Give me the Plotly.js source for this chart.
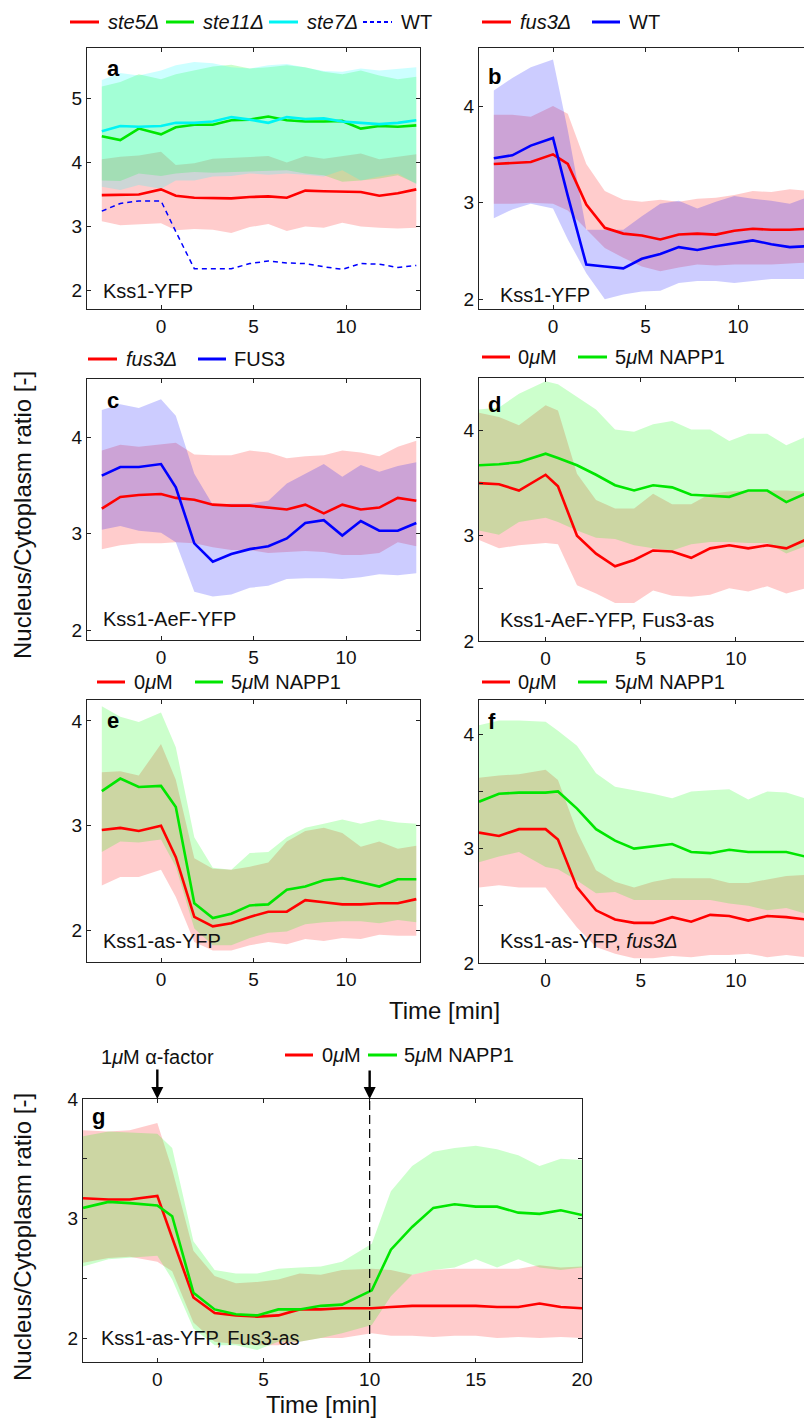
<!DOCTYPE html>
<html><head><meta charset="utf-8">
<script src="https://cdn.plot.ly/plotly-3.0.1.min.js"></script>
<style>html,body{margin:0;padding:0;overflow:hidden;background:#fff;width:804px;height:1418px}#chart{width:830px;height:1418px}</style>
</head><body><div id="chart"></div>
<script>
// ---------- time axes ----------
const T_A = [-3.2,-2.2,-1.2,0,0.8,1.8,2.8,3.8,4.8,5.8,6.8,7.8,8.8,9.8,10.8,11.8,12.8,13.8];
const T_D = [-3.5,-2.45,-1.4,0,0.65,1.65,2.65,3.65,4.65,5.65,6.65,7.65,8.65,9.65,10.65,11.65,12.65,13.65];
const T_G = [-3.5,-2.3,-1.3,0,0.7,1.7,2.7,3.7,4.7,5.7,6.7,7.7,8.7,10.1,11,12,13,14,15,16,17,18,19,20];

// ---------- panel a: Kss1-YFP ----------
const a_ste5 = [3.49,3.49,3.50,3.58,3.48,3.45,3.44,3.44,3.46,3.47,3.45,3.56,3.55,3.54,3.54,3.48,3.52,3.58];
const a_ste5_hi = [4.05,4.09,4.11,4.17,3.96,3.99,4.06,4.07,4.08,4.10,4.00,4.10,4.06,4.10,4.14,4.05,4.09,4.13];
const a_ste5_lo = [3.08,3.02,3.03,3.05,2.94,2.96,2.95,2.90,2.99,3.04,2.93,3.00,2.98,3.06,3.00,2.98,2.97,2.98];
const a_ste11 = [4.41,4.35,4.53,4.44,4.55,4.59,4.59,4.66,4.67,4.72,4.66,4.64,4.64,4.65,4.53,4.57,4.56,4.58];
const a_ste11_hi = [5.19,5.26,5.38,5.30,5.38,5.44,5.50,5.53,5.47,5.49,5.52,5.49,5.42,5.38,5.44,5.36,5.30,5.34];
const a_ste11_lo = [3.72,3.71,3.83,3.79,3.83,3.85,3.84,3.85,3.87,3.87,3.88,3.83,3.80,3.70,3.72,3.75,3.80,3.67];
const a_ste7 = [4.49,4.57,4.56,4.57,4.62,4.62,4.64,4.71,4.67,4.62,4.71,4.68,4.69,4.64,4.62,4.60,4.62,4.66];
const a_ste7_hi = [5.29,5.40,5.36,5.44,5.52,5.57,5.55,5.49,5.47,5.52,5.54,5.49,5.43,5.42,5.47,5.44,5.47,5.49];
const a_ste7_lo = [3.62,3.57,3.65,3.59,3.72,3.72,3.78,3.79,3.83,3.81,3.83,3.81,3.78,3.88,3.72,3.78,3.83,3.66];
const a_wt = [3.24,3.36,3.40,3.40,2.92,2.34,2.34,2.34,2.42,2.46,2.43,2.42,2.37,2.33,2.42,2.41,2.36,2.39];

// ---------- panel b: Kss1-YFP ----------
const b_fus3 = [3.40,3.41,3.42,3.50,3.40,2.98,2.74,2.68,2.66,2.62,2.67,2.68,2.67,2.71,2.73,2.72,2.72,2.73];
const b_fus3_hi = [3.91,3.91,3.89,4.00,3.92,3.40,3.12,3.03,3.01,3.03,3.01,3.04,3.05,3.08,3.12,3.11,3.14,3.12];
const b_fus3_lo = [2.99,2.99,3.00,2.99,2.92,2.72,2.53,2.43,2.34,2.29,2.33,2.36,2.35,2.36,2.36,2.36,2.37,2.38];
const b_wt = [3.46,3.49,3.59,3.67,3.07,2.36,2.34,2.32,2.42,2.47,2.54,2.51,2.55,2.58,2.61,2.57,2.54,2.55];
const b_wt_hi = [4.16,4.29,4.40,4.48,3.75,2.72,2.72,2.72,2.86,2.99,3.02,2.94,3.01,3.07,3.04,3.02,2.99,3.06];
const b_wt_lo = [2.84,2.93,2.99,2.94,2.62,2.27,2.00,2.05,2.08,2.09,2.17,2.19,2.19,2.17,2.19,2.21,2.21,2.21];

// ---------- panel c: Kss1-AeF-YFP ----------
const c_fus3 = [3.26,3.38,3.40,3.41,3.37,3.35,3.30,3.29,3.29,3.27,3.25,3.30,3.21,3.30,3.25,3.27,3.37,3.34];
const c_fus3_hi = [3.86,3.92,3.90,3.92,3.94,3.82,3.81,3.81,3.86,3.84,3.78,3.80,3.81,3.86,3.84,3.80,3.90,3.96];
const c_fus3_lo = [2.84,2.88,2.90,2.90,2.91,2.90,2.86,2.83,2.83,2.80,2.81,2.82,2.81,2.78,2.78,2.80,2.91,2.87];
const c_FUS3 = [3.60,3.69,3.69,3.72,3.48,2.90,2.71,2.79,2.84,2.87,2.95,3.11,3.14,2.98,3.13,3.03,3.03,3.11];
const c_FUS3_hi = [4.28,4.34,4.30,4.39,4.22,3.62,3.30,3.31,3.31,3.34,3.52,3.62,3.72,3.59,3.71,3.64,3.70,3.74];
const c_FUS3_lo = [3.04,3.08,3.03,3.01,2.91,2.40,2.35,2.37,2.44,2.46,2.53,2.54,2.54,2.53,2.55,2.58,2.57,2.59];

// ---------- panel d: Kss1-AeF-YFP, Fus3-as ----------
const d_0 = [3.50,3.49,3.43,3.58,3.47,3.00,2.83,2.71,2.77,2.86,2.85,2.79,2.88,2.91,2.88,2.91,2.88,2.96];
const d_0_hi = [4.17,4.13,4.05,4.24,4.19,3.59,3.34,3.26,3.26,3.40,3.30,3.30,3.40,3.42,3.43,3.43,3.43,3.42];
const d_0_lo = [2.96,2.88,2.91,2.93,2.92,2.53,2.45,2.36,2.36,2.48,2.43,2.42,2.44,2.50,2.47,2.52,2.45,2.50];
const d_5 = [3.67,3.68,3.70,3.78,3.74,3.67,3.58,3.48,3.43,3.48,3.46,3.39,3.38,3.37,3.43,3.43,3.32,3.40];
const d_5_hi = [4.20,4.22,4.35,4.47,4.44,4.32,4.20,4.01,3.99,4.06,4.09,4.01,4.01,3.90,3.97,3.97,3.86,3.94];
const d_5_lo = [3.05,3.01,3.13,3.17,3.13,3.05,2.98,2.97,2.91,2.88,2.86,2.92,2.94,2.94,2.93,2.93,2.83,2.90];

// ---------- panel e: Kss1-as-YFP ----------
const e_0 = [2.96,2.98,2.95,3.00,2.70,2.13,2.04,2.07,2.13,2.18,2.18,2.29,2.27,2.25,2.25,2.26,2.26,2.30];
const e_0_hi = [3.51,3.52,3.48,3.78,3.44,2.69,2.59,2.58,2.61,2.65,2.85,2.95,2.98,2.93,2.80,2.85,2.78,2.81];
const e_0_lo = [2.43,2.51,2.51,2.58,2.32,1.89,1.81,1.81,1.86,1.89,1.87,1.92,1.90,1.93,1.92,1.96,1.95,1.95];
const e_5 = [3.33,3.45,3.37,3.38,3.18,2.26,2.12,2.16,2.24,2.25,2.39,2.42,2.48,2.50,2.46,2.42,2.49,2.49];
const e_5_hi = [4.14,4.04,3.99,4.08,3.75,2.89,2.60,2.58,2.74,2.75,2.89,2.98,3.02,3.06,3.02,3.06,3.03,3.02];
const e_5_lo = [2.75,2.85,2.84,2.87,2.61,2.02,1.86,1.86,1.93,1.98,1.99,2.06,2.08,2.09,2.09,2.07,2.10,2.08];

// ---------- panel f: Kss1-as-YFP, fus3Δ ----------
const f_0 = [3.14,3.11,3.17,3.17,3.08,2.66,2.46,2.38,2.35,2.35,2.40,2.36,2.42,2.41,2.37,2.41,2.40,2.38];
const f_0_hi = [3.62,3.64,3.65,3.69,3.60,3.15,2.81,2.71,2.66,2.71,2.74,2.74,2.74,2.70,2.70,2.73,2.76,2.77];
const f_0_lo = [2.66,2.68,2.66,2.66,2.52,2.31,2.14,2.08,2.04,2.04,2.06,2.05,2.07,2.07,2.08,2.05,2.07,2.05];
const f_5 = [3.41,3.48,3.49,3.49,3.50,3.35,3.17,3.07,3.00,3.02,3.04,2.97,2.96,2.99,2.97,2.97,2.97,2.93];
const f_5_hi = [4.08,4.12,4.12,4.11,4.03,3.90,3.66,3.54,3.51,3.48,3.44,3.50,3.51,3.52,3.43,3.50,3.49,3.44];
const f_5_lo = [2.88,2.93,2.97,2.84,2.82,2.72,2.61,2.62,2.55,2.55,2.55,2.55,2.55,2.52,2.50,2.46,2.48,2.43];

// ---------- panel g: Kss1-as-YFP, Fus3-as ----------
const g_0 = [3.17,3.16,3.16,3.19,2.84,2.34,2.21,2.19,2.18,2.19,2.24,2.24,2.25,2.25,2.26,2.27,2.27,2.27,2.27,2.26,2.26,2.29,2.26,2.25];
const g_0_hi = [3.74,3.73,3.74,3.80,3.41,2.73,2.52,2.46,2.47,2.49,2.54,2.53,2.57,2.58,2.57,2.53,2.57,2.58,2.58,2.58,2.58,2.61,2.59,2.60];
const g_0_lo = [2.63,2.67,2.68,2.64,2.56,2.13,1.97,1.95,1.94,1.94,1.97,2.00,2.00,2.04,2.02,2.02,2.01,2.02,2.02,2.00,2.01,2.00,2.01,2.00];
const g_5 = [3.09,3.14,3.13,3.11,3.02,2.38,2.24,2.20,2.19,2.24,2.24,2.27,2.28,2.40,2.74,2.93,3.09,3.12,3.10,3.10,3.05,3.04,3.07,3.03];
const g_5_hi = [3.69,3.73,3.72,3.71,3.59,2.81,2.57,2.54,2.54,2.58,2.59,2.60,2.64,2.79,3.23,3.44,3.56,3.59,3.61,3.58,3.53,3.44,3.50,3.49];
const g_5_lo = [2.60,2.66,2.67,2.69,2.49,2.08,1.94,1.94,1.90,1.97,1.97,2.00,2.04,2.11,2.35,2.53,2.57,2.59,2.66,2.59,2.66,2.59,2.57,2.59];
const G_ALPHA_TIME = 0;   // 1 µM alpha-factor added
const G_NAPP_TIME = 10;   // NAPP1 added

// ---------- tick labels ----------
const X_TICKS = [0,5,10];
const X_TICKS_G = [0,5,10,15,20];
const Y_TICKS_INT = [2,3,4];
const Y_TICKS_A = [2,3,4,5];
const Y_TICKS_HALF = [2,2.5,3,3.5,4];
const Y_TEXT_HALF = ['2','','3','','4'];

// ---------- styling ----------
const W = 830, H = 1418;
const FONT = '"Liberation Sans", Arial, Helvetica, sans-serif';
const C = {red:'#ff0000', green:'#00e600', cyan:'#00f4f4', blue:'#0000ff'};
const F = {red:'rgba(255,0,0,0.2)', green:'rgba(0,255,0,0.2)', cyan:'rgba(0,255,255,0.2)', blue:'rgba(0,0,255,0.2)'};
const fx = p => p / W;
const fy = p => 1 - p / H;

const panels = [
  {n:1, box:[87,48,420,309],   xr:[-4,14],   yr:[1.71,5.79],  yt:Y_TICKS_A},
  {n:2, box:[479,48,812,309],  xr:[-4,14],   yr:[1.9,4.6],    yt:Y_TICKS_INT},
  {n:3, box:[87,379,420,640],  xr:[-4,14],   yr:[1.9,4.6],    yt:Y_TICKS_INT},
  {n:4, box:[479,378,812,641], xr:[-3.5,14], yr:[1.999,4.5],  yt:Y_TICKS_HALF, ytt:Y_TEXT_HALF},
  {n:5, box:[87,700,420,962],  xr:[-4,14],   yr:[1.7,4.2],    yt:Y_TICKS_INT},
  {n:6, box:[479,700,812,963], xr:[-3.5,14], yr:[1.999,4.3],  yt:Y_TICKS_HALF, ytt:Y_TEXT_HALF},
  {n:7, box:[83,1099,582,1362],xr:[-3.5,20], yr:[1.8,4.001],  yt:Y_TICKS_HALF, ytt:Y_TEXT_HALF, xt:X_TICKS_G}
];

const traces = [];
function band(x, lo, hi, col, n){
  traces.push({x: x.concat(x.slice().reverse()), y: hi.concat(lo.slice().reverse()),
    type:'scatter', mode:'lines', fill:'toself', fillcolor:F[col], line:{width:0, color:F[col]},
    hoverinfo:'skip', showlegend:false, xaxis:'x'+n, yaxis:'y'+n});
}
function line(x, y, col, n, dash, w){
  traces.push({x:x, y:y, type:'scatter', mode:'lines', line:{color:C[col], width:w||2.6, dash:dash||'solid'},
    hoverinfo:'skip', showlegend:false, xaxis:'x'+n, yaxis:'y'+n});
}
// a
band(T_A, a_ste5_lo, a_ste5_hi, 'red', 1);
band(T_A, a_ste11_lo, a_ste11_hi, 'green', 1);
band(T_A, a_ste7_lo, a_ste7_hi, 'cyan', 1);
line(T_A, a_ste5, 'red', 1); line(T_A, a_ste11, 'green', 1); line(T_A, a_ste7, 'cyan', 1);
line(T_A, a_wt, 'blue', 1, '5px,4px', 1.5);
// b
band(T_A, b_fus3_lo, b_fus3_hi, 'red', 2); band(T_A, b_wt_lo, b_wt_hi, 'blue', 2);
line(T_A, b_fus3, 'red', 2); line(T_A, b_wt, 'blue', 2);
// c
band(T_A, c_fus3_lo, c_fus3_hi, 'red', 3); band(T_A, c_FUS3_lo, c_FUS3_hi, 'blue', 3);
line(T_A, c_fus3, 'red', 3); line(T_A, c_FUS3, 'blue', 3);
// d
band(T_D, d_0_lo, d_0_hi, 'red', 4); band(T_D, d_5_lo, d_5_hi, 'green', 4);
line(T_D, d_0, 'red', 4); line(T_D, d_5, 'green', 4);
// e
band(T_A, e_0_lo, e_0_hi, 'red', 5); band(T_A, e_5_lo, e_5_hi, 'green', 5);
line(T_A, e_0, 'red', 5); line(T_A, e_5, 'green', 5);
// f
band(T_D, f_0_lo, f_0_hi, 'red', 6); band(T_D, f_5_lo, f_5_hi, 'green', 6);
line(T_D, f_0, 'red', 6); line(T_D, f_5, 'green', 6);
// g
band(T_G, g_0_lo, g_0_hi, 'red', 7); band(T_G, g_5_lo, g_5_hi, 'green', 7);
line(T_G, g_0, 'red', 7); line(T_G, g_5, 'green', 7);

const layout = {
  width: W, height: H, margin:{l:0,r:0,t:0,b:0}, paper_bgcolor:'#fff', plot_bgcolor:'rgba(0,0,0,0)',
  font:{family:FONT, color:'#111', size:19}, showlegend:false, hovermode:false,
  annotations:[], shapes:[]
};
panels.forEach(p=>{
  const [x0,y0,x1,y1] = p.box;
  const ax = {domain:[fx(x0),fx(x1)], range:p.xr, tickmode:'array', tickvals:p.xt||X_TICKS,
    ticks:'inside', ticklen:4, tickcolor:'#222', showline:true, mirror:'ticks', linecolor:'#222', linewidth:1,
    showgrid:false, zeroline:false, tickfont:{size:19, color:'#111', family:FONT}, anchor:'y'+p.n, fixedrange:true};
  const ay = {domain:[fy(y1),fy(y0)], range:p.yr, tickmode:'array', tickvals:p.yt,
    ticks:'inside', ticklen:4, tickcolor:'#222', showline:true, mirror:'ticks', linecolor:'#222', linewidth:1,
    showgrid:false, zeroline:false, tickfont:{size:19, color:'#111', family:FONT}, anchor:'x'+p.n, fixedrange:true};
  if (p.ytt) ay.ticktext = p.ytt;
  const sfx = p.n===1 ? '' : p.n;
  layout['xaxis'+sfx] = ax; layout['yaxis'+sfx] = ay;
});

function txt(x, y, s, opt){
  layout.annotations.push(Object.assign({xref:'paper', yref:'paper', x:fx(x), y:fy(y), text:s, showarrow:false,
    xanchor:'left', yanchor:'middle', font:{size:20, family:FONT, color:'#111'}}, opt||{}));
}
function legLine(x0, x1, y, col, dash){
  layout.shapes.push({type:'line', xref:'paper', yref:'paper', x0:fx(x0), x1:fx(x1), y0:fy(y), y1:fy(y),
    line:{color:C[col], width: dash ? 2.2 : 3, dash: dash || 'solid'}});
}
// legends
legLine(70,99,22,'red'); txt(106,22,'<i>ste5Δ</i>');
legLine(166,194,22,'green'); txt(201,22,'<i>ste11Δ</i>');
legLine(269,298,22,'cyan'); txt(305,22,'<i>ste7Δ</i>');
legLine(363,392,22,'blue','4px,3px'); txt(399,22,'WT');

legLine(482,511,22,'red'); txt(518,22,'<i>fus3Δ</i>');
legLine(592,620,22,'blue'); txt(627,22,'WT');

legLine(88,117,359,'red'); txt(124,359,'<i>fus3Δ</i>');
legLine(198,226,359,'blue'); txt(232,359,'FUS3');

legLine(482,510,357,'red'); txt(516,357,'0<i>μ</i>M');
legLine(578,607,357,'green'); txt(613,357,'5<i>μ</i>M NAPP1');

legLine(97,125,682,'red'); txt(132,682,'0<i>μ</i>M');
legLine(195,223,682,'green'); txt(229,682,'5<i>μ</i>M NAPP1');

legLine(482,510,682,'red'); txt(516,682,'0<i>μ</i>M');
legLine(578,607,682,'green'); txt(613,682,'5<i>μ</i>M NAPP1');

legLine(285,313,1055,'red'); txt(320,1055,'0<i>μ</i>M');
legLine(368,397,1055,'green'); txt(402,1055,'5<i>μ</i>M NAPP1');

// panel letters
const BOLD = {size:22, family:FONT, color:'#000', weight:'bold'};
txt(105,68,'<b>a</b>',{font:BOLD});
txt(486,76,'<b>b</b>',{font:BOLD});
txt(105,400,'<b>c</b>',{font:BOLD});
txt(486,404,'<b>d</b>',{font:BOLD});
txt(105,720,'<b>e</b>',{font:BOLD});
txt(486,721,'<b>f</b>',{font:BOLD});
txt(90,1116,'<b>g</b>',{font:BOLD});

// strain labels
txt(101,291,'Kss1-YFP');
txt(498,295,'Kss1-YFP');
txt(101,619,'Kss1-AeF-YFP');
txt(498,620,'Kss1-AeF-YFP, Fus3-as');
txt(101,941,'Kss1-as-YFP');
txt(498,941,'Kss1-as-YFP, <i>fus3Δ</i>');
txt(99,1338,'Kss1-as-YFP, Fus3-as');

// axis titles
const TITLE = {size:24, family:FONT, color:'#111'};
txt(444,1010,'Time [min]',{xanchor:'center', font:TITLE});
txt(22,515,'Nucleus/Cytoplasm ratio [-]',{xanchor:'center', textangle:-90, font:TITLE});
txt(321,1404,'Time [min]',{xanchor:'center', font:TITLE});
txt(22,1237,'Nucleus/Cytoplasm ratio [-]',{xanchor:'center', textangle:-90, font:TITLE});

// stimulation arrows in g
layout.annotations.push({xref:'x7', yref:'paper', x:G_ALPHA_TIME, y:fy(1099), text:'1<i>μ</i>M α-factor',
  showarrow:true, ax:0, ay:-42, arrowhead:2, arrowsize:1, arrowwidth:2.4, arrowcolor:'#000',
  font:{size:20, family:FONT, color:'#111'}});
layout.annotations.push({xref:'x7', yref:'paper', x:G_NAPP_TIME, y:fy(1099), text:'',
  showarrow:true, ax:0, ay:-30, arrowhead:2, arrowsize:1, arrowwidth:2.4, arrowcolor:'#000'});
layout.shapes.push({type:'line', xref:'x7', yref:'y7 domain', x0:G_NAPP_TIME, x1:G_NAPP_TIME, y0:0, y1:1,
  line:{color:'#000', width:1.2, dash:'9px,5px'}, layer:'above'});

Plotly.newPlot('chart', traces, layout, {staticPlot:true, displayModeBar:false});
</script></body></html>
